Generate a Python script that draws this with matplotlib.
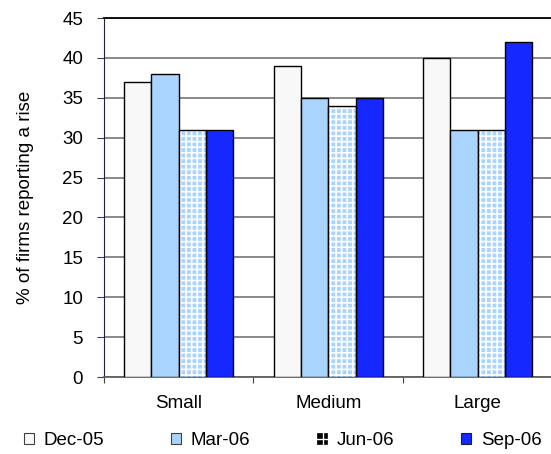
import matplotlib
matplotlib.use("Agg")
import matplotlib.pyplot as plt
from matplotlib.patches import Patch, Rectangle
from matplotlib.lines import Line2D
from matplotlib.legend_handler import HandlerBase
import numpy as np

plt.rcParams['font.family'] = ['Liberation Sans', 'DejaVu Sans']
plt.rcParams['hatch.linewidth'] = 1.2

categories = ["Small", "Medium", "Large"]
series_names = ["Dec-05", "Mar-06", "Jun-06", "Sep-06"]
dec05 = [37, 39, 40]
mar06 = [38, 35, 31]
jun06 = [31, 34, 31]
sep06 = [31, 35, 42]
yticks = [0, 5, 10, 15, 20, 25, 30, 35, 40, 45]

series_values = [dec05, mar06, jun06, sep06]
face_colors = ["#F8F8F8", "#A9D4FF", "#A9D4FF", "#1428FF"]
FS = 13.5


class CrossSquareHandler(HandlerBase):
    """Dark square key with a white cross, for the grid-patterned series."""
    def create_artists(self, legend, orig_handle, xdescent, ydescent,
                       width, height, fontsize, trans):
        x0, y0 = -xdescent, -ydescent
        rect = Rectangle((x0, y0), width, height, facecolor="black",
                         edgecolor="black", linewidth=0.5, transform=trans)
        cx = x0 + width * 0.55
        cy = y0 + height * 0.45
        v = Line2D([cx, cx], [y0, y0 + height], color="white", lw=1.0,
                   transform=trans)
        h = Line2D([x0, x0 + width], [cy, cy], color="white", lw=1.0,
                   transform=trans)
        return [rect, v, h]


fig = plt.figure(figsize=(5.51, 4.54), dpi=100)
ax = fig.add_axes([0.1887, 0.1696, 0.8140, 0.7907])

x = np.arange(len(categories))
bar_w = 0.183
offsets = (np.arange(4) - 1.5) * bar_w

for i, (vals, fc) in enumerate(zip(series_values, face_colors)):
    if series_names[i] == "Jun-06":
        ax.bar(x + offsets[i], vals, bar_w, color=fc, edgecolor="white",
               hatch="+++", linewidth=0, zorder=3)
        ax.bar(x + offsets[i], vals, bar_w, fill=False, edgecolor="black",
               linewidth=1.0, zorder=4)
    else:
        ax.bar(x + offsets[i], vals, bar_w, color=fc, edgecolor="black",
               linewidth=1.0, zorder=3)

ax.set_xlim(-0.5, 2.5)
ax.set_ylim(0, 45)
ax.set_yticks(yticks)
ax.set_yticklabels([str(t) for t in yticks], fontsize=FS)
ax.yaxis.grid(True, color="#808080", linewidth=1.3, zorder=0)
ax.set_axisbelow(True)

ax.set_xticks([-0.5, 0.5, 1.5, 2.5])
ax.set_xticklabels([])
ax.set_xticks(x, minor=True)
ax.set_xticklabels(categories, minor=True, fontsize=FS)
ax.tick_params(axis="x", which="minor", length=0, pad=13)
ax.tick_params(axis="x", which="major", length=4, direction="out", color="#404040")
ax.tick_params(axis="y", length=5, direction="out", pad=10, color="#404040")

ax.spines["right"].set_visible(False)
ax.spines["top"].set_color("black")
ax.spines["top"].set_linewidth(1.3)
ax.spines["left"].set_color("#202040")
ax.spines["bottom"].set_color("#606060")
ax.spines["bottom"].set_linewidth(1.3)

ax.set_ylabel("% of firms reporting a rise", fontsize=FS, labelpad=20)

handles = [
    Patch(facecolor="#F8F8F8", edgecolor="#404040", linewidth=0.8),
    Patch(facecolor="#A9D4FF", edgecolor="#404040", linewidth=0.8),
    Patch(facecolor="black"),
    Patch(facecolor="#1428FF", edgecolor="#202020", linewidth=0.8),
]
fig.legend(handles, series_names, loc="center left", bbox_to_anchor=(0.044, 0.029),
           ncol=4, frameon=False, fontsize=FS, handlelength=0.5, handleheight=0.5,
           handletextpad=0.55, columnspacing=3.56, borderpad=0, borderaxespad=0,
           handler_map={handles[2]: CrossSquareHandler()})

fig.savefig("out.png", dpi=100)
